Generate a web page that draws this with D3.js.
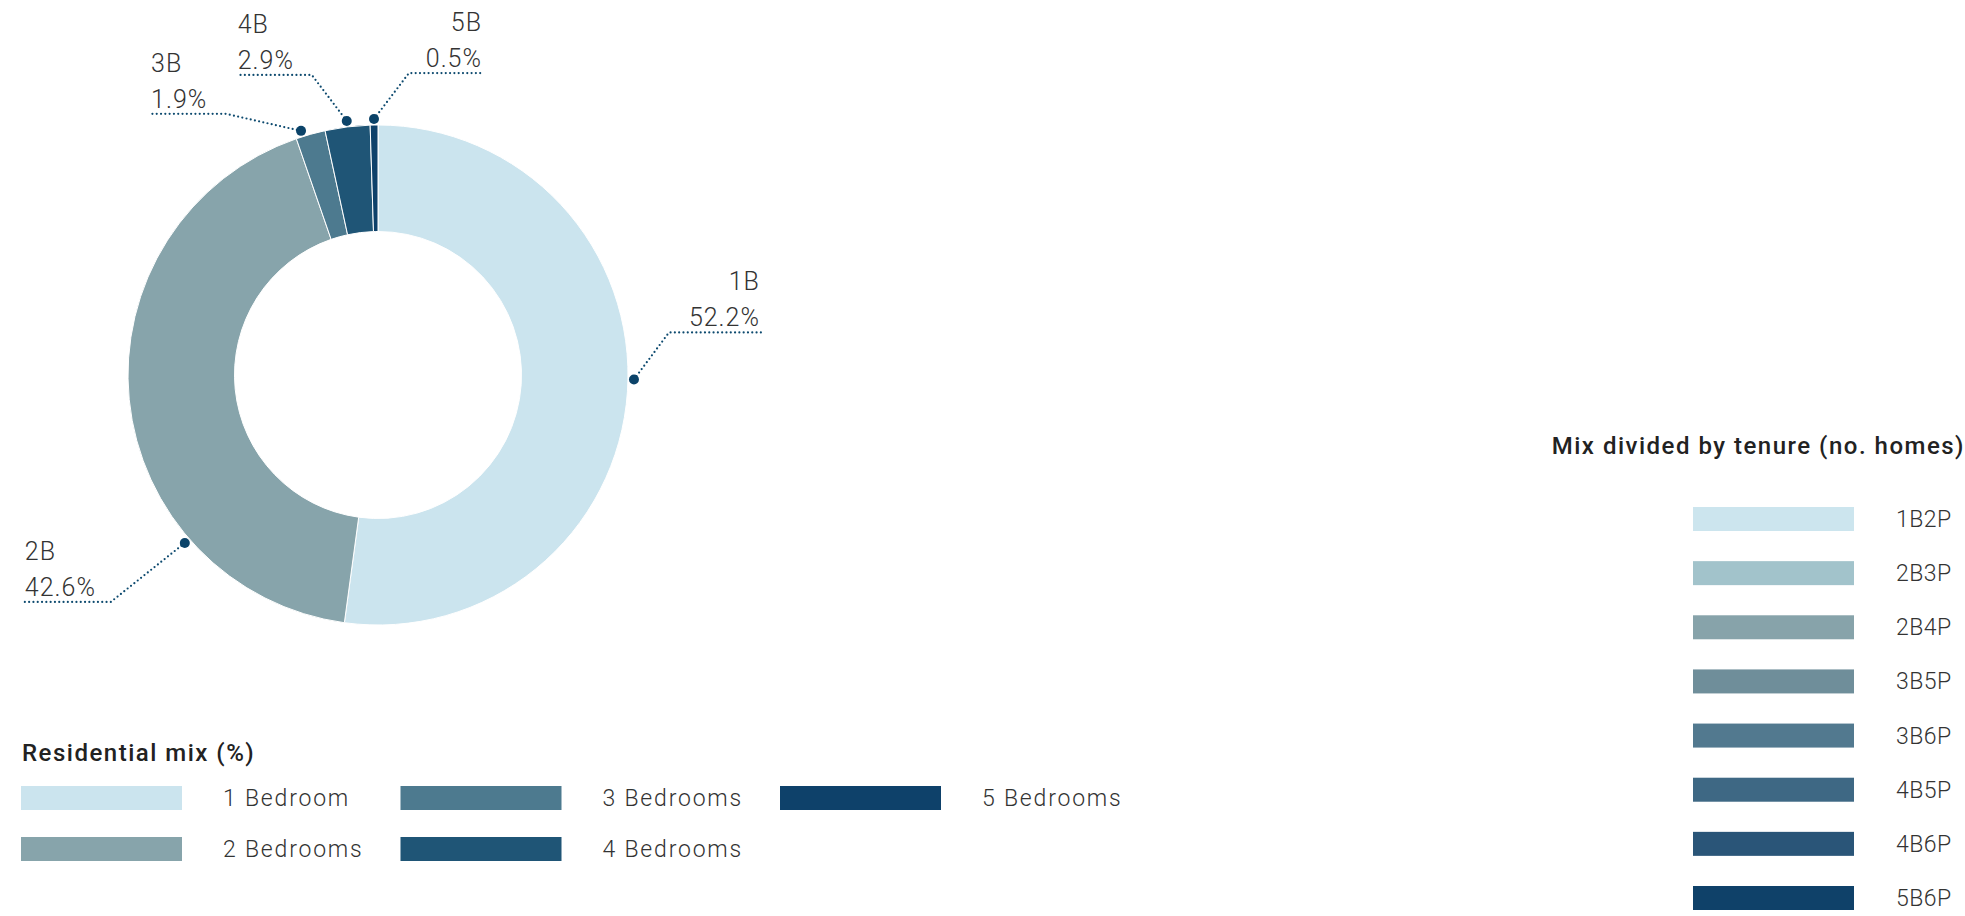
<!DOCTYPE html>
<html lang="en">
<head>
<meta charset="UTF-8">
<title>Residential mix</title>
<script src="https://cdn.jsdelivr.net/npm/d3@7"></script>
<style>
  body { margin: 0; background: #fff; }
  text { font-family: Roboto, "Liberation Sans", sans-serif; fill: #333; }
  .lbl { font-size: 25px; font-weight: 300; letter-spacing: 1px; }
  .leg { font-size: 23px; font-weight: 300; letter-spacing: 1.8px; }
  .leg.ten { letter-spacing: 0.5px; }
  .ttl { font-size: 24px; font-weight: 500; fill: #222; letter-spacing: 1.5px; }
  .leader { fill: none; stroke: #0d4a6f; stroke-width: 2.2; stroke-dasharray: 0 4.3; stroke-linecap: round; }
</style>
</head>
<body>
<div id="chart"></div>
<script>
// DATA
const mixKeys = ["1B", "2B", "3B", "4B", "5B"];
const mixNames = ["1 Bedroom", "2 Bedrooms", "3 Bedrooms", "4 Bedrooms", "5 Bedrooms"];
const mixValues = [52.2, 42.6, 1.9, 2.9, 0.5];
const mixColors = ["#cbe4ee", "#87a4ab", "#4d7a8f", "#1f5576", "#0e416a"];

const tenureNames = ["1B2P", "2B3P", "2B4P", "3B5P", "3B6P", "4B5P", "4B6P", "5B6P"];
const tenureColors = ["#cce5ee", "#a2c3cb", "#87a3aa", "#6f8e9a", "#52798f", "#3e6884", "#2a5578", "#0f4169"];

// label leader layout: where the dot sits (deg from top) and how the line bends
const labelLayout = {
  "1B": { angle: 91,    dx: 35,  dy: -47, len: 92 },
  "2B": { angle: 229,   dx: -74, dy: 59,  len: -87 },
  "3B": { angle: 342.5, dx: -75, dy: -17, len: -76 },
  "4B": { angle: null,  dx: -35, dy: -46, len: -75 },
  "5B": { angle: null,  dx: 35,  dy: -46, len: 74 }
};

const width = 1965, height = 916;
const cx = 378, cy = 375, outerR = 250, innerR = 143.5;

const svg = d3.select("#chart").append("svg")
  .attr("width", width).attr("height", height);

const color = d3.scaleOrdinal().domain(mixKeys).range(mixColors);

const mix = mixKeys.map((k, i) => ({ key: k, value: mixValues[i] }));
const pie = d3.pie().sort(null).value(d => d.value);
const arcs = pie(mix);
const arc = d3.arc().innerRadius(innerR).outerRadius(outerR);

const g = svg.append("g").attr("transform", "translate(" + cx + "," + cy + ")");

g.selectAll("path.slice")
  .data(arcs)
  .enter().append("path")
  .attr("class", "slice")
  .attr("d", arc)
  .attr("fill", d => color(d.data.key))
  .attr("stroke", "#fff")
  .attr("stroke-width", 1);

// LABELS
const dotR = outerR + 6;
arcs.forEach(function (d) {
  const lay = labelLayout[d.data.key];
  const a = lay.angle != null ? lay.angle * Math.PI / 180 : (d.startAngle + d.endAngle) / 2;
  const px = Math.sin(a) * dotR, py = -Math.cos(a) * dotR;
  const ex = px + lay.dx, ey = py + lay.dy;
  const lx = ex + lay.len;
  g.append("path").attr("class", "leader")
    .attr("d", d3.line()([[px, py], [ex, ey], [lx, ey]]));
  g.append("circle").attr("cx", px).attr("cy", py).attr("r", 5).attr("fill", "#0b4369");
  const right = lay.len > 0;
  const tx = right ? lx - 1 : lx + 1;
  g.append("text").attr("class", "lbl")
    .attr("x", tx).attr("y", ey - 6)
    .attr("text-anchor", right ? "end" : "start")
    .text(d3.format(".1f")(d.data.value) + "%");
  g.append("text").attr("class", "lbl")
    .attr("x", tx).attr("y", ey - 42)
    .attr("text-anchor", right ? "end" : "start")
    .text(d.data.key);
});

// LEGEND: residential mix
svg.append("text").attr("class", "ttl").attr("x", 22).attr("y", 761).text("Residential mix (%)");
const colX = d3.scaleLinear().domain([0, 2]).range([21, 780]);
const rowY = d3.scaleLinear().domain([0, 1]).range([798, 849]);
const legItems = svg.selectAll("g.mixleg")
  .data(mixNames)
  .enter().append("g")
  .attr("class", "mixleg")
  .attr("transform", (d, i) => "translate(" + colX(Math.floor(i / 2)) + "," + rowY(i % 2) + ")");
legItems.append("rect")
  .attr("x", 0).attr("y", -12).attr("width", 161).attr("height", 24)
  .attr("fill", (d, i) => mixColors[i]);
legItems.append("text").attr("class", "leg")
  .attr("x", 202).attr("y", 8)
  .text(d => d);

// LEGEND: tenure
svg.append("text").attr("class", "ttl")
  .attr("x", 1965).attr("y", 454).attr("text-anchor", "end")
  .text("Mix divided by tenure (no. homes)");
const tenY = d3.scalePoint().domain(tenureNames).range([519, 898]);
const tenItems = svg.selectAll("g.tenleg")
  .data(tenureNames)
  .enter().append("g")
  .attr("class", "tenleg")
  .attr("transform", d => "translate(1693," + tenY(d) + ")");
tenItems.append("rect")
  .attr("x", 0).attr("y", -12).attr("width", 161).attr("height", 24)
  .attr("fill", (d, i) => tenureColors[i]);
tenItems.append("text").attr("class", "leg ten")
  .attr("x", 203).attr("y", 8)
  .text(d => d);
</script>
</body>
</html>
